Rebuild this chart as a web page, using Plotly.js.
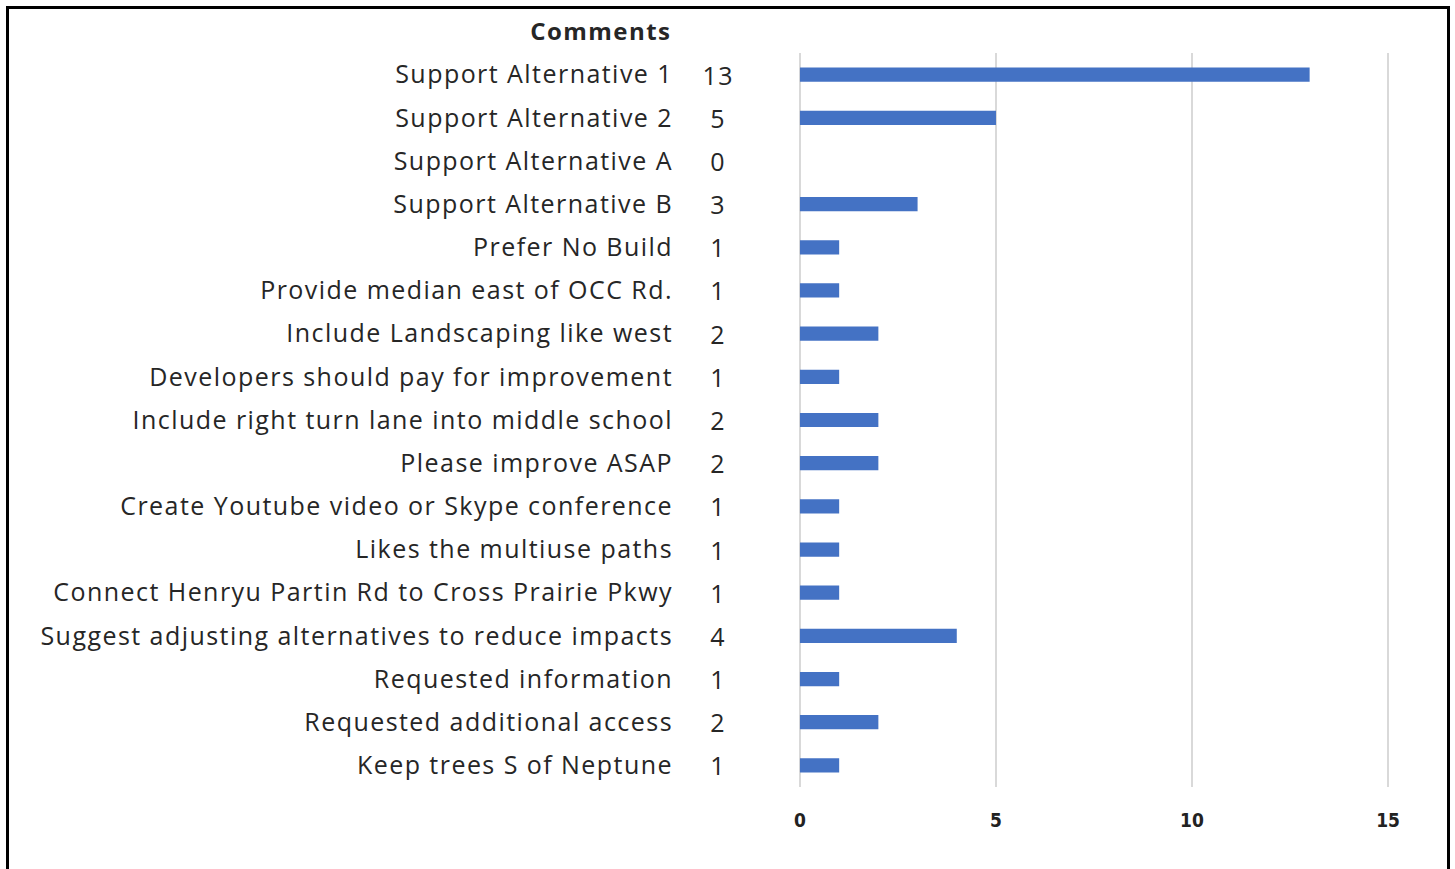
<!DOCTYPE html>
<html>
<head>
<meta charset="utf-8">
<script src="https://cdn.plot.ly/plotly-3.0.1.min.js"></script>
<style>
html,body{margin:0;padding:0;background:#fff;}
#wrap{position:relative;width:1455px;height:869px;overflow:hidden;}
#chart{position:absolute;left:0;top:0;width:1455px;height:869px;}
#frame{position:absolute;left:6px;top:6px;width:1438px;height:900px;border:3px solid #000;pointer-events:none;}
#chart .ytick text, #chart .annotation-text { letter-spacing: 1.45px; }
</style>
</head>
<body>
<div id="wrap"><div id="chart"></div><div id="frame"></div></div>
<script>
const categories = [
  "Support Alternative 1",
  "Support Alternative 2",
  "Support Alternative A",
  "Support Alternative B",
  "Prefer No Build",
  "Provide median east of OCC Rd.",
  "Include Landscaping like west",
  "Developers should pay for improvement",
  "Include right turn lane into middle school",
  "Please improve ASAP",
  "Create Youtube video or Skype conference",
  "Likes the multiuse paths",
  "Connect Henryu Partin Rd to Cross Prairie Pkwy",
  "Suggest adjusting alternatives to reduce impacts",
  "Requested information",
  "Requested additional access",
  "Keep trees S of Neptune"
];
const counts = [13, 5, 0, 3, 1, 1, 2, 1, 2, 2, 1, 1, 1, 4, 1, 2, 1];
const headerText = "Comments";
const xTicks = [0, 5, 10, 15];

const FONT = "'Open Sans', 'Noto Sans', sans-serif";
const textColor = "#262626";

const annotations = categories.map((c, i) => ({
  xref: "paper", yref: "y", x: -0.135, y: c,
  text: String(counts[i]), showarrow: false,
  xanchor: "center", yanchor: "middle",
  font: {family: FONT, size: 25, color: textColor}
}));
annotations.push({
  xref: "paper", yref: "paper", x: -0.219, y: 1.03,
  text: "<b>" + headerText + "</b>", showarrow: false,
  xanchor: "right", yanchor: "middle",
  font: {family: FONT, size: 24, color: textColor}
});

const data = [{
  type: "bar", orientation: "h",
  x: counts, y: categories,
  marker: {color: "#4472C4"},
  hoverinfo: "x+y"
}];

const layout = {
  width: 1455, height: 869,
  margin: {l: 798, r: 65, t: 53, b: 82, pad: 0},
  paper_bgcolor: "rgba(0,0,0,0)", plot_bgcolor: "rgba(0,0,0,0)",
  showlegend: false,
  bargap: 0.67,
  xaxis: {
    range: [-0.05, 15.05], tickvals: xTicks, ticktext: xTicks.map(String),
    showgrid: true, gridcolor: "#d9d9d9", gridwidth: 1.5,
    zeroline: false, showline: false, ticks: "",
    tickfont: {family: "'DejaVu Sans Condensed', 'DejaVu Sans', sans-serif", size: 19, color: "#222", weight: "bold"},
    ticklabelstandoff: 20
  },
  yaxis: {
    type: "category", autorange: "reversed",
    showgrid: false, zeroline: false, showline: false,
    ticks: "", ticklabelstandoff: 124,
    tickfont: {family: FONT, size: 25, color: textColor}
  },
  annotations: annotations
};

Plotly.newPlot("chart", data, layout, {displayModeBar: false, staticPlot: true});
</script>
</body>
</html>
